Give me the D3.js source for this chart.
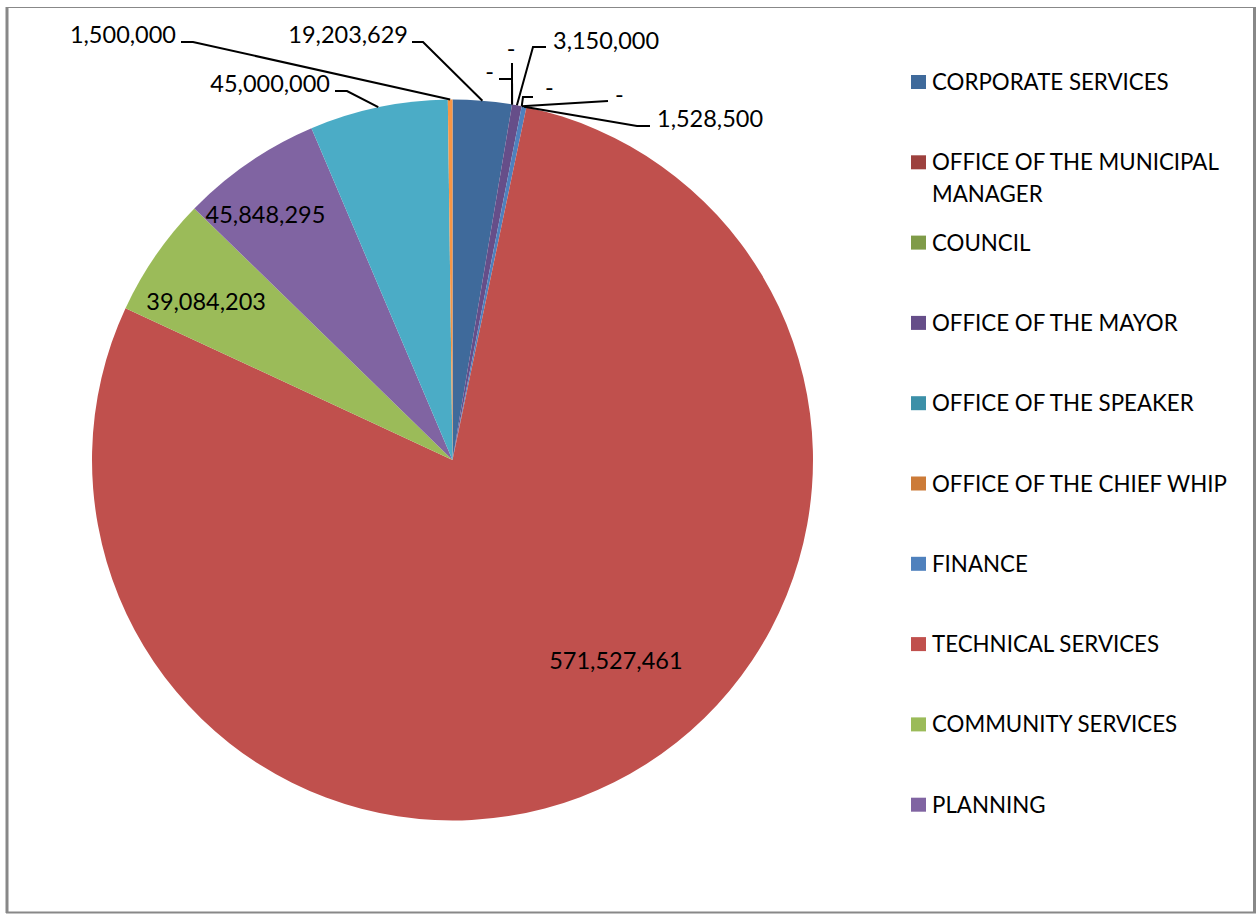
<!DOCTYPE html>
<html>
<head>
<meta charset="utf-8">
<script src="https://cdn.jsdelivr.net/npm/d3@7"></script>
<style>
  body { margin: 0; background: #fff; }
  svg text { font-family: Lato, "Open Sans", sans-serif; font-size: 23.5px; fill: #000; }
  svg .legend text { font-size: 22.3px; }
</style>
</head>
<body>
<svg width="1260" height="916"></svg>
<script>
// departments, budget amounts and colours
var categories = ['CORPORATE SERVICES', 'OFFICE OF THE MUNICIPAL MANAGER', 'COUNCIL',
	'OFFICE OF THE MAYOR', 'OFFICE OF THE SPEAKER', 'OFFICE OF THE CHIEF WHIP',
	'FINANCE', 'TECHNICAL SERVICES', 'COMMUNITY SERVICES', 'PLANNING', '', ''];
var values = [19203629, 0, 0, 3150000, 0, 0, 1528500, 571527461, 39084203, 45848295, 45000000, 1500000];
var colors = ['#3f6a9b', '#9d413e', '#7f9b48', '#664e89', '#3c90a8', '#cc7b38',
	'#4f81bd', '#c0504d', '#9bbb59', '#8064a2', '#4bacc6', '#f79646'];
// legend only fits the first ten entries
var legendCount = 10;

function main() {
	var svg = d3.select('svg');

	// frame
	svg.append('line').attr('x1', 7).attr('y1', 7).attr('x2', 7).attr('y2', 913)
		.attr('stroke', '#888').attr('stroke-width', 3);
	svg.append('line').attr('x1', 1254.5).attr('y1', 7).attr('x2', 1254.5).attr('y2', 913)
		.attr('stroke', '#888').attr('stroke-width', 3);
	svg.append('line').attr('x1', 6).attr('y1', 7.5).attr('x2', 1256).attr('y2', 7.5)
		.attr('stroke', '#888').attr('stroke-width', 1);
	svg.append('line').attr('x1', 6).attr('y1', 912.5).attr('x2', 1256).attr('y2', 912.5)
		.attr('stroke', '#888').attr('stroke-width', 2);

	var cx = 452.5, cy = 460, radius = 360.5;
	var data = categories.map(function(c, i) { return {name: c, value: values[i], color: colors[i]}; });

	var pie = d3.pie().sort(null).value(function(d) { return d.value; });
	var path = d3.arc().outerRadius(radius).innerRadius(0);
	var fmt = d3.format(',');
	function labelText(v) { return v === 0 ? '-' : fmt(v); }

	var g = svg.append('g')
		.attr('transform', 'translate(' + cx + ',' + cy + ')');

	var arcs = pie(data);
	g.selectAll('.arc')
		.data(arcs)
		.enter().append('path')
		.attr('class', 'arc')
		.attr('d', path)
		.attr('fill', function(d) { return d.data.color; });

	// labels inside the big slices: fraction of radius plus a small nudge
	var inside = {
		7: {f: 0.72, dx: 47, dy: -32},
		8: {f: 0.82, dx: -3, dy: 9},
		9: {f: 0.85, dx: -14, dy: 7}
	};
	// outside labels: elbow of leader, end of horizontal stub, text anchor point
	var outside = {
		0: {ex: 423, ey: 42, hx: 412, tx: 408, ty: 43, anchor: 'end'},
		1: {ex: 512, ey: 63, hx: 512, tx: 511, ty: 57, anchor: 'middle'},
		2: {ex: 512, ey: 79, hx: 499, tx: 494, ty: 80, anchor: 'end'},
		3: {ex: 533, ey: 47, hx: 546, tx: 553, ty: 49, anchor: 'start'},
		4: {ex: 523, ey: 97, hx: 533, tx: 545, ty: 96, anchor: 'start'},
		5: {ex: 608, ey: 101, hx: 608, tx: 615, ty: 103, anchor: 'start'},
		6: {ex: 637, ey: 126, hx: 650, tx: 657, ty: 127, anchor: 'start'},
		10: {ex: 347, ey: 91, hx: 335, tx: 330, ty: 92, anchor: 'end'},
		11: {ex: 193, ey: 42, hx: 181, tx: 176, ty: 43, anchor: 'end'}
	};

	arcs.forEach(function(d, i) {
		var mid = (d.startAngle + d.endAngle) / 2;
		if (inside[i] !== undefined) {
			var lr = radius * inside[i].f;
			g.append('text')
				.attr('x', lr * Math.sin(mid) + inside[i].dx)
				.attr('y', -lr * Math.cos(mid) + inside[i].dy)
				.attr('text-anchor', 'middle')
				.attr('dominant-baseline', 'central')
				.text(labelText(d.data.value));
		} else if (outside[i]) {
			var o = outside[i];
			var px = cx + radius * Math.sin(mid), py = cy - radius * Math.cos(mid);
			svg.append('path')
				.attr('d', 'M' + o.hx + ',' + o.ey + 'H' + o.ex + 'L' + px + ',' + py)
				.attr('fill', 'none')
				.attr('stroke', '#000')
				.attr('stroke-width', 2);
			svg.append('text')
				.attr('x', o.tx)
				.attr('y', o.ty)
				.attr('text-anchor', o.anchor)
				.text(labelText(d.data.value));
		}
	});

	// legend
	var legend = svg.append('g').attr('class', 'legend');
	var wrap = {1: ['OFFICE OF THE MUNICIPAL', 'MANAGER']};
	data.slice(0, legendCount).forEach(function(d, i) {
		var base = 90 + i * 80.3;
		legend.append('rect')
			.attr('x', 911).attr('y', base - 15)
			.attr('width', 15).attr('height', 14)
			.attr('fill', d.color);
		var lines = wrap[i] || [d.name];
		var t = legend.append('text').attr('x', 932).attr('y', base);
		lines.forEach(function(l, k) {
			t.append('tspan').attr('x', 932).attr('dy', k === 0 ? 0 : 32).text(l);
		});
	});
}
main();
</script>
</body>
</html>
